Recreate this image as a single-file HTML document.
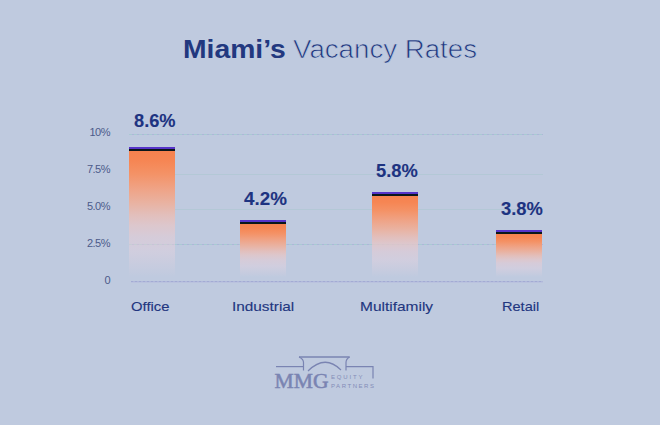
<!DOCTYPE html>
<html><head><meta charset="utf-8">
<style>
*{margin:0;padding:0;box-sizing:border-box}
html,body{width:660px;height:425px;overflow:hidden;background:#bfcadf}
body{position:relative;font-family:"Liberation Sans",sans-serif}
.t{position:absolute;white-space:nowrap;line-height:1;transform-origin:0 0}
.title{left:184px;top:36.2px;font-size:25.5px;color:#22387f;transform:scaleX(1.09)}
.title b{font-weight:700}
.title span{font-weight:400}
.ylab{right:550px;font-size:11px;letter-spacing:-0.5px;color:#4c5a8a;text-align:right;transform-origin:100% 0}
.val{font-size:17.5px;transform:scaleX(1.07);font-weight:700;color:#1d3381;-webkit-text-stroke:0.1px #1d3381}
.cat{font-size:13px;transform:scaleX(1.18);color:#22367f;-webkit-text-stroke:0.12px #22367f}
.grid{position:absolute;left:129px;width:414px;height:1px;background:#b3c8d6}
.grid.dot{background:repeating-linear-gradient(90deg,#a9cbd2 0 3px,#aeb5d9 3px 5px)}
.axis{position:absolute;left:131px;width:412px;height:2px;top:281px;background:linear-gradient(180deg,rgba(191,202,223,0) 0 1px,#bac2de 1px 2px),repeating-linear-gradient(90deg,#a3abd4 0 2px,#b0b8da 2px 4px)}
.bar{position:absolute;width:46px}
.bar .cap{height:2px;background:#5634c9}
.bar .blk{height:2px;background:#0b171b}
.bar .body{position:absolute;left:0;right:0;top:4px;bottom:0;
 background:linear-gradient(180deg,rgb(246,130,79) 0%,rgb(246,134,84) 8%,rgb(244,146,102) 18%,rgb(239,163,134) 30%,rgb(233,178,161) 41%,rgb(226,191,188) 51%,rgba(228,198,200,.8) 59%,rgba(230,204,212,.58) 68%,rgba(236,212,222,.38) 80%,rgba(236,212,222,.16) 92%,rgba(236,212,222,0) 100%)}
</style></head><body>

<div class="grid dot" style="top:134px"></div>
<div class="grid" style="top:174px"></div>
<div class="grid" style="top:209px"></div>
<div class="grid dot" style="top:244px"></div>
<div class="axis"></div>

<div class="t title" style="font-weight:700;left:183.4px;top:36.6px;transform:scaleX(1.11)">Miami’s</div>
<div class="t title" style="left:293px;top:36.6px;transform:scaleX(1.085);-webkit-text-stroke:0.7px #bfcadf">Vacancy Rates</div>

<div class="t ylab" style="top:127px">10%</div>
<div class="t ylab" style="top:164px">7.5%</div>
<div class="t ylab" style="top:201px">5.0%</div>
<div class="t ylab" style="top:238px">2.5%</div>
<div class="t ylab" style="top:275px">0</div>

<div class="bar" style="left:129px;top:147px;height:130px"><div class="cap"></div><div class="blk"></div><div class="body"></div></div>
<div class="bar" style="left:240px;top:220px;height:57px"><div class="cap"></div><div class="blk"></div><div class="body"></div></div>
<div class="bar" style="left:372px;top:192px;height:85px"><div class="cap"></div><div class="blk"></div><div class="body"></div></div>
<div class="bar" style="left:496px;top:230px;height:47px"><div class="cap"></div><div class="blk"></div><div class="body"></div></div>

<div class="t val" style="left:133.8px;top:112.5px;transform:scaleX(1.043)">8.6%</div>
<div class="t val" style="left:243.8px;top:190.5px;transform:scaleX(1.075)">4.2%</div>
<div class="t val" style="left:376.2px;top:162.5px;transform:scaleX(1.05)">5.8%</div>
<div class="t val" style="left:501.2px;top:200.8px;transform:scaleX(1.05)">3.8%</div>

<div class="t cat" style="left:131.2px;top:299.5px;transform:scaleX(1.14)">Office</div>
<div class="t cat" style="left:232.3px;top:299.5px">Industrial</div>
<div class="t cat" style="left:360.3px;top:299.5px;transform:scaleX(1.19)">Multifamily</div>
<div class="t cat" style="left:502px;top:299.5px;transform:scaleX(1.12)">Retail</div>

<svg style="position:absolute;left:0;top:0" width="660" height="425" viewBox="0 0 660 425">
 <g fill="none" stroke="#7a84b2" stroke-width="1.2">
  <path d="M276 366.6H304"/>
  <path d="M299 357H349.6" stroke-width="1.6"/>
  <path d="M299 357Q303.5 359 303.5 362.5V370.5"/>
  <path d="M349.6 357Q346 359 346 362.5V370.5"/>
  <path d="M346 366.6H373V378.6"/>
  <path d="M308 371Q325 354 341 370"/>
 </g>
 <text x="274.5" y="387.6" font-family="Liberation Serif" font-size="20" font-weight="400" fill="#7a84b2" stroke="#7a84b2" stroke-width="0.5" textLength="54" lengthAdjust="spacingAndGlyphs">MMG</text>
 <text x="331" y="378.6" font-family="Liberation Sans" font-size="6" fill="#838cb8" textLength="31.5" lengthAdjust="spacing">EQUITY</text>
 <text x="331" y="387.9" font-family="Liberation Sans" font-size="6" fill="#838cb8" textLength="43" lengthAdjust="spacing">PARTNERS</text>
</svg>
</body></html>
